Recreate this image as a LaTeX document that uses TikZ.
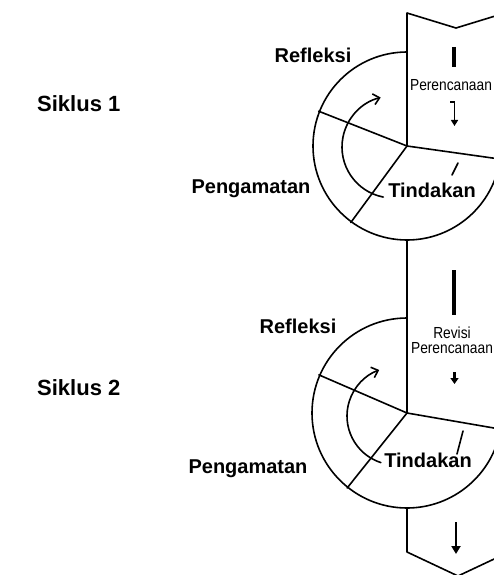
\documentclass[tikz,border=0pt]{standalone}
\usepackage{fontspec}
\setmainfont{Liberation Sans}
\usetikzlibrary{calc,arrows.meta}
\tikzset{
  ln/.style={line width=1.6pt, line cap=round, line join=round},
  lbl/.style={font=\fontsize{20}{24}\selectfont\bfseries, inner sep=0pt},
  cyc/.style={font=\fontsize{22}{26}\selectfont\bfseries, inner sep=0pt, anchor=west},
  small/.style={font=\fontsize{16}{16}\selectfont, inner sep=0pt, align=center},
  bar/.style={line width=3.6pt},
  carrow/.style={ln, -{Straight Barb[length=6pt,width=11pt,line width=1.6pt]}},
  darrow/.style={line width=2.4pt, -{Triangle[length=8pt,width=9pt]}}
}
\newcommand{\narrowtxt}[1]{\scalebox{0.86}[1]{#1}}
\begin{document}
\begin{tikzpicture}[x=1pt,y=1pt]
\useasboundingbox (0,0) rectangle (494,-575);
\clip (0,0) rectangle (494,-575);
\fill[white] (0,0) rectangle (494,-575);
% key coordinates
\coordinate (O1) at (407,-146);
\coordinate (O2) at (407,-413);
\coordinate (C1) at (393,-147);
\coordinate (C2) at (396,-416);
\coordinate (topL) at (407,-13);
\coordinate (topN) at (456,-28);
\coordinate (topR) at (505,-13);
\coordinate (botL) at (407,-552);
\coordinate (botN) at (458,-576);
\coordinate (botR) at (509,-552);
\coordinate (O1b) at (407,-240);
\coordinate (O2b) at (407,-508);
% column outline
\draw[ln] (topR) -- (topN) -- (topL) -- (O1);
\draw[ln] (O1b) -- (O2);
\draw[ln] (O2b) -- (botL) -- (botN) -- (botR);
% cycle 1 circle and spokes
\draw[ln] ($(O1)+(90:94)$) arc[start angle=90, end angle=352, radius=94];
\draw[ln] (O1) -- ($(O1)+(158.5:95)$);
\draw[ln] (O1) -- ($(O1)+(233.7:95)$);
\draw[ln] (O1) -- ($(O1)+(-8:100)$);
\draw[carrow] ($(C1)+(259:51)$) arc[start angle=259, end angle=104, radius=51];
\coordinate (t1a) at (458,-163);
\coordinate (t1b) at (452,-175);
\draw[ln] (t1a) -- (t1b);
% cycle 2 circle and spokes
\draw[ln] ($(O2)+(90:95)$) arc[start angle=90, end angle=350, radius=95];
\draw[ln] (O2) -- ($(O2)+(156.6:96)$);
\draw[ln] (O2) -- ($(O2)+(231.4:96)$);
\draw[ln] (O2) -- ($(O2)+(-9.8:100)$);
\draw[carrow] ($(C2)+(252:49)$) arc[start angle=252, end angle=110, radius=49];
\coordinate (t2a) at (463,-431);
\coordinate (t2b) at (457,-454);
\draw[ln] (t2a) -- (t2b);
% column markers
\coordinate (b1a) at (454,-47);
\coordinate (b1b) at (454,-67);
\draw[bar] (b1a) -- (b1b);
\coordinate (a1s) at (450,-102);
\coordinate (a1t) at (454.5,-102);
\coordinate (a1e) at (454.5,-126);
\draw[line width=1.8pt, -{Triangle[length=6pt,width=7pt]}] (a1s) -- (a1t) -- (a1e);
\coordinate (b2a) at (454,-270);
\coordinate (b2b) at (454,-315);
\draw[bar] (b2a) -- (b2b);
\coordinate (a2s) at (454.5,-372);
\coordinate (a2e) at (454.5,-384);
\draw[line width=2.4pt, -{Triangle[length=6pt,width=8pt]}] (a2s) -- (a2e);
\coordinate (a3s) at (456,-522);
\coordinate (a3e) at (456,-554);
\draw[darrow] (a3s) -- (a3e);
% labels
\node[cyc] (s1) at (37,-104) {Siklus 1};
\node[cyc] (s2) at (37,-388) {Siklus 2};
\node[lbl] (r1) at (313,-55) {Refleksi};
\node[lbl] (p1) at (251,-189) {Pengamatan};
\node[lbl] (td1) at (432,-190) {Tindakan};
\node[lbl] (r2) at (298,-326) {Refleksi};
\node[lbl] (p2) at (248,-469) {Pengamatan};
\node[lbl] (td2) at (428,-460) {Tindakan};
\node[small] (pc1) at (451,-85) {\narrowtxt{Perencanaan}};
\node[small] (rv2) at (452,-340) {\narrowtxt{Revisi}\\[-1pt]\narrowtxt{Perencanaan}};
\end{tikzpicture}
\end{document}
